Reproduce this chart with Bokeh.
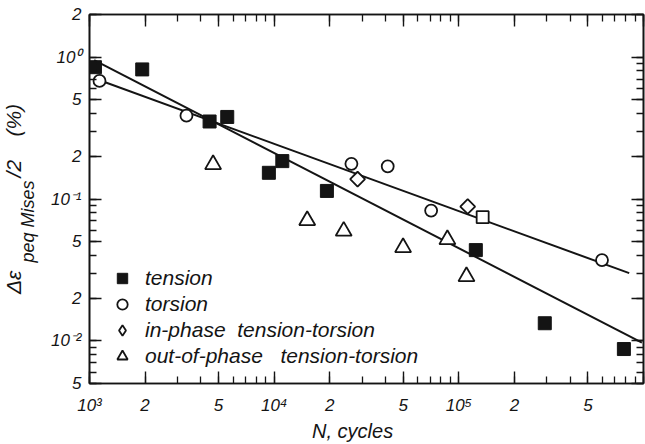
import numpy as np
from bokeh.plotting import figure
from bokeh.models import LogAxis, FixedTicker, Legend, LegendItem, Range1d, Title
from bokeh.embed import file_html
from bokeh.resources import INLINE

# ---- measured fatigue data: N (cycles) vs equivalent strain amplitude (%) ----
tension_N = [1070, 1930, 4470, 5570, 9360, 11070, 19300, 123600, 292000, 783000]
tension_eps = [0.85, 0.82, 0.352, 0.379, 0.153, 0.185, 0.114, 0.0436, 0.0133, 0.00875]

torsion_N = [1133, 3350, 26200, 41200, 70800, 596000]
torsion_eps = [0.68, 0.387, 0.177, 0.170, 0.0829, 0.0371]

inphase_N = [28300, 111700]
inphase_eps = [0.138, 0.0885]

outphase_N = [4670, 15100, 23800, 49900, 86700, 110000]
outphase_eps = [0.175, 0.0706, 0.0594, 0.0455, 0.0518, 0.0284]

# single open-square specimen on the torsion line
other_N = [134600]
other_eps = [0.0745]

# fitted life curves (end points)
tension_fit_N = [1060, 980000]
tension_fit_eps = [0.955, 0.0097]
torsion_fit_N = [1060, 837000]
torsion_fit_eps = [0.71, 0.030]

# ---- axis ticks and labels ----
x_ticks = [1e3, 2e3, 5e3, 1e4, 2e4, 5e4, 1e5, 2e5, 5e5, 1e6]
x_tick_labels = ["10³", "2", "5", "10⁴", "2", "5", "10⁵", "2", "5", ""]
y_ticks = [5e-3, 1e-2, 2e-2, 5e-2, 1e-1, 2e-1, 5e-1, 1.0, 2.0]
y_tick_labels = ["5", "10⁻²", "2", "5", "10⁻¹", "2", "5", "10⁰", "2"]

legend_labels = ["tension", "torsion", "in-phase  tension-torsion",
                 "out-of-phase   tension-torsion"]

NB = "\u00a0"
x_title = "N, cycles"
y_title_main = ["Δε", "/2", "(%)"]
y_title_sub = "peq Mises"

INK = "#141414"
FONT = "Liberation Sans"


def minor_list(lo_exp, hi_exp):
    return [m * 10.0 ** e for e in range(lo_exp, hi_exp + 1) for m in range(1, 10)]


x_minor = minor_list(3, 6)
y_minor = minor_list(-3, 0)

p = figure(width=645, height=444, x_axis_type="log", y_axis_type="log",
           x_range=Range1d(1e3, 1e6), y_range=Range1d(5e-3, 2.0),
           output_backend="svg", toolbar_location=None,
           min_border_left=89, min_border_right=2, min_border_top=14,
           min_border_bottom=59)
p.title.visible = False
p.xgrid.visible = False
p.ygrid.visible = False
p.outline_line_color = INK
p.outline_line_width = 1.6
p.background_fill_color = "white"
p.border_fill_color = "white"


def style_axis(ax, ticks, minor, labels, show_labels):
    ax.ticker = FixedTicker(ticks=ticks, minor_ticks=minor)
    ax.major_tick_in = 12
    ax.major_tick_out = 0
    ax.minor_tick_in = 7
    ax.minor_tick_out = 0
    ax.major_tick_line_color = INK
    ax.minor_tick_line_color = INK
    ax.major_tick_line_width = 1.4
    ax.minor_tick_line_width = 1.3
    ax.axis_line_color = INK
    ax.axis_line_width = 1.6
    if show_labels:
        ax.major_label_overrides = {t: s for t, s in zip(ticks, labels)}
        ax.major_label_text_font = FONT
        ax.major_label_text_font_style = "italic"
        ax.major_label_text_font_size = "17px"
        ax.major_label_text_color = INK
    else:
        ax.major_label_overrides = {t: "" for t in ticks}
        ax.major_label_text_font_size = "0px"
        ax.major_label_standoff = 0


xa = p.xaxis[0]
ya = p.yaxis[0]
style_axis(xa, x_ticks, x_minor, x_tick_labels, True)
style_axis(ya, y_ticks, y_minor, y_tick_labels, True)
xa.major_label_standoff = 12
ya.major_label_standoff = 8

# x title, nudged left of centre with trailing padding
xa.axis_label = x_title + NB * 5
xa.axis_label_text_font = FONT
xa.axis_label_text_font_style = "italic"
xa.axis_label_text_font_size = "20px"
xa.axis_label_text_color = INK
xa.axis_label_standoff = 2

# y title: the subscript sits on the axis itself, the main text in a title outside it
ya.axis_label = y_title_sub + NB * 9
ya.axis_label_text_font = FONT
ya.axis_label_text_font_style = "italic"
ya.axis_label_text_font_size = "18px"
ya.axis_label_text_color = INK
ya.axis_label_standoff = 10

main_text = y_title_main[0] + NB * 16 + y_title_main[1] + NB * 4 + y_title_main[2]
p.add_layout(Title(text=main_text, align="center", vertical_align="top",
                   standoff=-26, text_font=FONT, text_font_style="italic",
                   text_font_size="21px", text_color=INK), "left")

top_axis = LogAxis()
style_axis(top_axis, x_ticks, x_minor, x_tick_labels, False)
p.add_layout(top_axis, "above")
right_axis = LogAxis()
style_axis(right_axis, y_ticks, y_minor, y_tick_labels, False)
p.add_layout(right_axis, "right")

# fitted lines
p.line(tension_fit_N, tension_fit_eps, line_color=INK, line_width=2)
p.line(torsion_fit_N, torsion_fit_eps, line_color=INK, line_width=2)

# specimens
r_ten = p.scatter(tension_N, tension_eps, marker="square", size=13,
                  fill_color=INK, line_color=INK, line_width=1)
r_tor = p.scatter(torsion_N, torsion_eps, marker="circle", size=12,
                  fill_color="white", line_color=INK, line_width=1.8)
p.scatter(inphase_N, inphase_eps, marker="square", angle=np.pi / 4, size=10.5,
          fill_color="white", line_color=INK, line_width=1.8)
r_out = p.scatter(outphase_N, outphase_eps, marker="triangle", size=16,
                  fill_color="white", line_color=INK, line_width=1.8)
p.scatter(other_N, other_eps, marker="square", size=12,
          fill_color="white", line_color=INK, line_width=1.8)

# key symbol for the in-phase series (a single unplotted point)
r_in_key = p.scatter([np.nan], [np.nan], marker="diamond", size=12,
                     fill_color="white", line_color=INK, line_width=1.8)

legend = Legend(items=[LegendItem(label=legend_labels[0], renderers=[r_ten]),
                       LegendItem(label=legend_labels[1], renderers=[r_tor]),
                       LegendItem(label=legend_labels[2], renderers=[r_in_key]),
                       LegendItem(label=legend_labels[3], renderers=[r_out])],
                location=(17, 14), glyph_width=32, glyph_height=26, spacing=0,
                label_standoff=7, padding=0, margin=0, label_height=20,
                border_line_alpha=0, background_fill_alpha=0,
                label_text_font=FONT, label_text_font_style="italic",
                label_text_font_size="21px", label_text_color=INK)
p.add_layout(legend)

open("out.html", "w").write(file_html(p, INLINE))
